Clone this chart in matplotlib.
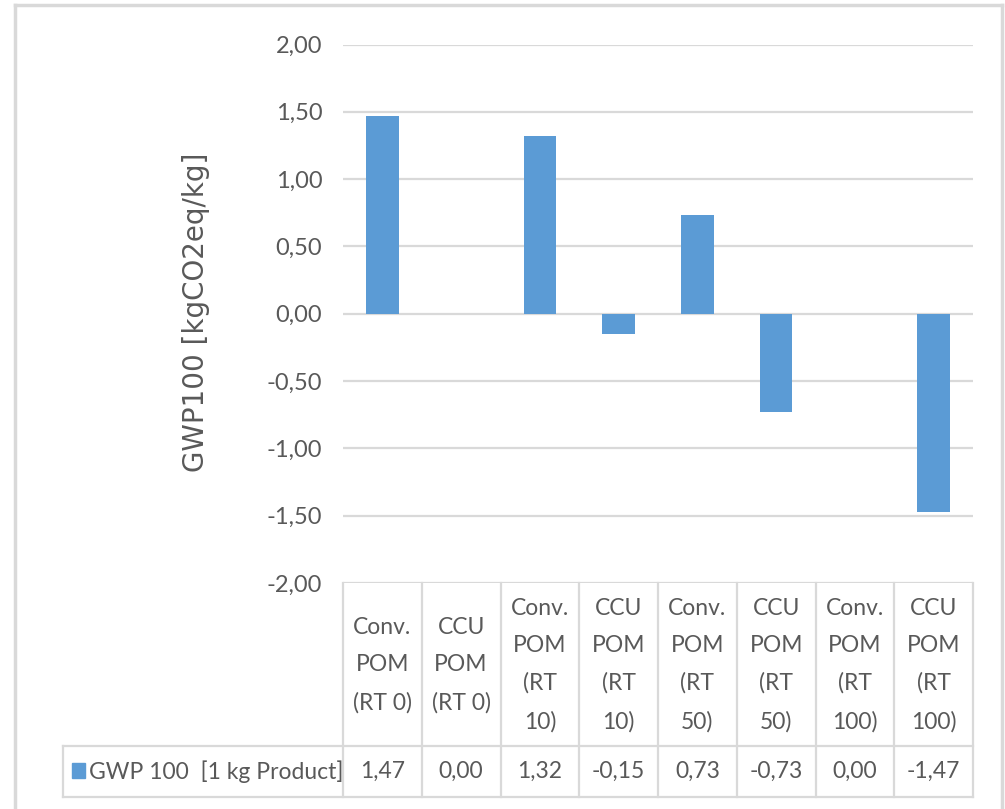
import matplotlib
matplotlib.use("Agg")
import matplotlib.pyplot as plt
import matplotlib.transforms as mtransforms
from matplotlib.patches import Rectangle
from matplotlib.lines import Line2D

# Data
categories = ["Conv.\nPOM\n(RT 0)", "CCU\nPOM\n(RT 0)",
              "Conv.\nPOM\n(RT\n10)", "CCU\nPOM\n(RT\n10)",
              "Conv.\nPOM\n(RT\n50)", "CCU\nPOM\n(RT\n50)",
              "Conv.\nPOM\n(RT\n100)", "CCU\nPOM\n(RT\n100)"]
gwp_values = [1.47, 0.00, 1.32, -0.15, 0.73, -0.73, 0.00, -1.47]
series_name = "GWP 100  [1 kg Product]"
y_label = "GWP100 [kgCO2eq/kg]"
y_ticks = [-2.0, -1.5, -1.0, -0.5, 0.0, 0.5, 1.0, 1.5, 2.0]

BAR = "#5B9BD5"
GRID = "#D9D9D9"
TEXT = "#595959"
FONT = ["Lato", "DejaVu Sans"]
FS = 16.5

W, H = 1005, 809
fig = plt.figure(figsize=(W / 100, H / 100), dpi=100)
fig.patch.set_facecolor("white")


def fy(p):
    """figure fraction from a pixel row measured from the top"""
    return (H - p) / H


# Outer chart frame (open at the bottom)
for xs, ys in (([15, 15], [5, H]), ([15, 1002], [5, 5]), ([1002, 1002], [5, H])):
    fig.add_artist(Line2D([v / W for v in xs], [fy(v) for v in ys], color="#D9D9D9",
                          lw=2.5, transform=fig.transFigure))

top_px, bot_px = 44.5, 583.0
left_px, right_px = 343.0, 973.0
ax = fig.add_axes([left_px / W, fy(bot_px), (right_px - left_px) / W, (bot_px - top_px) / H])

x = list(range(len(categories)))
ax.bar(x, gwp_values, width=0.41, color=BAR, zorder=3)

ax.set_xlim(-0.5, len(categories) - 0.5)
ax.set_ylim(-2.0, 2.0)
ax.set_yticks(y_ticks)
ax.set_yticklabels([f"{v:.2f}".replace(".", ",") for v in y_ticks],
                   fontsize=17, color=TEXT, family=FONT)
ax.tick_params(axis="y", length=0, pad=15)
ax.set_xticks([])
for s in ax.spines.values():
    s.set_visible(False)
ax.yaxis.grid(True, color=GRID, lw=1.6, zorder=0)
ax.set_axisbelow(True)

fig.text(196 / W, fy(312), y_label, rotation=90, ha="center", va="center",
         fontsize=20, color=TEXT, family="DejaVu Sans")

# Data table below the plot
tr_data = mtransforms.blended_transform_factory(ax.transData, fig.transFigure)
tr_axes = mtransforms.blended_transform_factory(ax.transAxes, fig.transFigure)
row_div, table_bot = 746.0, 797.0
leg_left = (63 - left_px) / (right_px - left_px)

lw_t = 1.6
for i in range(len(categories) + 1):
    ax.add_line(Line2D([i - 0.5, i - 0.5], [fy(bot_px), fy(table_bot)], color=GRID, lw=lw_t,
                       transform=tr_data, clip_on=False))
for yy in (row_div, table_bot):
    ax.add_line(Line2D([leg_left, 1], [fy(yy), fy(yy)], color=GRID, lw=lw_t,
                       transform=tr_axes, clip_on=False))
ax.add_line(Line2D([leg_left, leg_left], [fy(row_div), fy(table_bot)], color=GRID, lw=lw_t,
                   transform=tr_axes, clip_on=False))

for i, (lab, v) in enumerate(zip(categories, gwp_values)):
    ax.text(i, fy(665), lab, transform=tr_data, ha="center", va="center",
            fontsize=FS, color=TEXT, family=FONT, linespacing=1.95, clip_on=False)
    ax.text(i, fy(771.5), f"{v:.2f}".replace(".", ","), transform=tr_data,
            ha="center", va="center", fontsize=FS, color=TEXT, family=FONT, clip_on=False)

# Legend key inside the table
fig.add_artist(Rectangle((72 / W, fy(778)), 13 / W, 15 / H, color=BAR, transform=fig.transFigure))
fig.text(89 / W, fy(771.5), series_name, ha="left", va="center",
         fontsize=FS, color=TEXT, family=FONT)

fig.savefig("out.png", dpi=100, facecolor="white")
